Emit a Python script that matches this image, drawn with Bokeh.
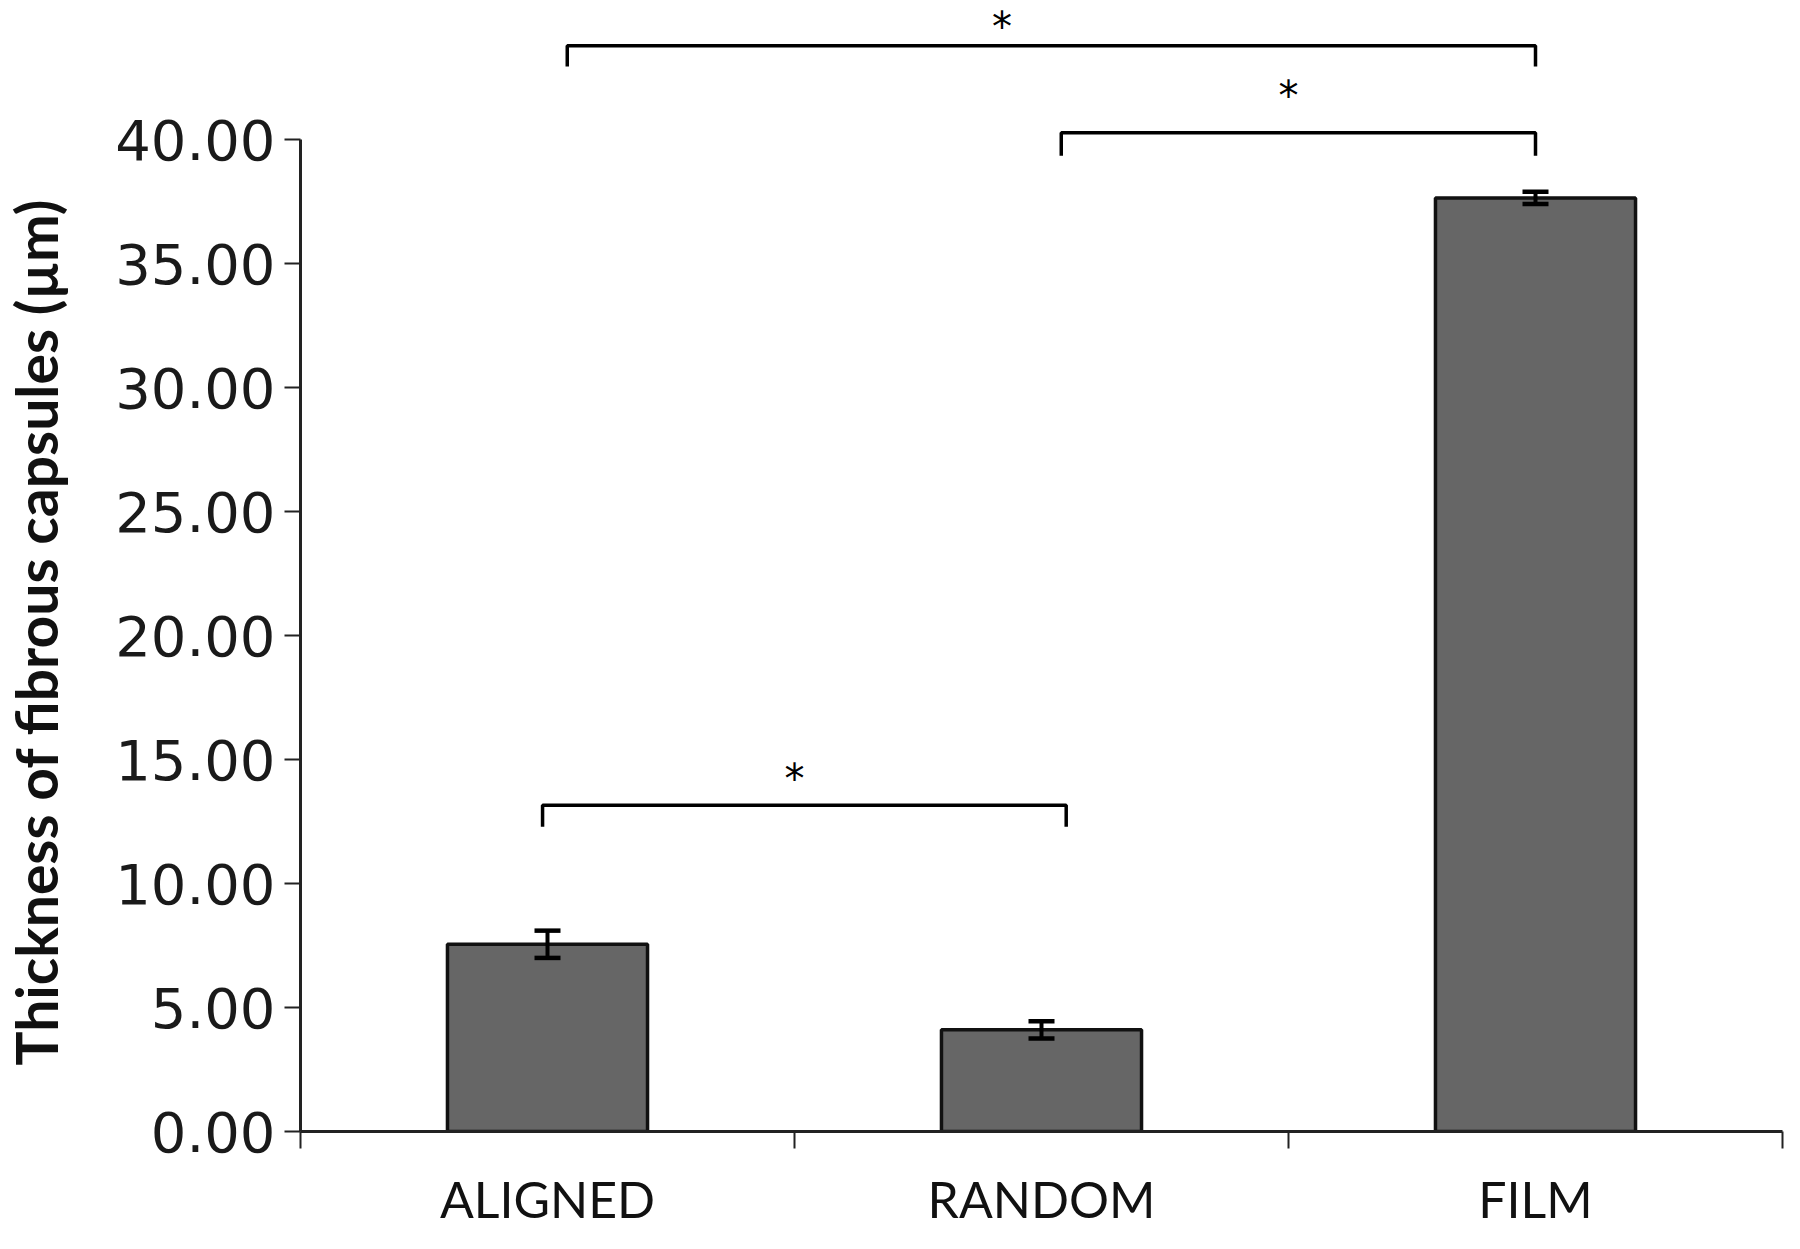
from bokeh.plotting import figure
from bokeh.models import (Range1d, FixedTicker, NumeralTickFormatter, Whisker,
                          TeeHead, ColumnDataSource, Title, LinearAxis)
from bokeh.core.properties import value
from bokeh.embed import file_html
from bokeh.resources import INLINE

# ---- data ----
categories = ["ALIGNED", "RANDOM", "FILM"]
means = [7.55, 4.10, 37.65]
errors = [0.55, 0.35, 0.25]
y_ticks = [0, 5, 10, 15, 20, 25, 30, 35, 40]
y_title = "Thickness of fibrous capsules (µm)"

# significance brackets (x in category units, 0..3; y in data units)
br_left = [0.54, 1.54, 0.49]
br_right = [2.50, 2.50, 1.55]
br_top = [43.79, 40.28, 13.16]
br_foot = [42.95, 39.35, 12.29]
star_x = [1.42, 2.00, 1.00]
star_y = [44.56, 41.76, 14.21]

centers = [i + 0.5 for i in range(len(categories))]

p = figure(width=1784, height=1233, output_backend="svg", toolbar_location=None,
           x_range=Range1d(0, 3), y_range=Range1d(0, 45.61),
           min_border_left=300, min_border_right=2, min_border_top=0,
           min_border_bottom=102)
p.outline_line_color = None
p.xgrid.visible = False
p.ygrid.visible = False
p.background_fill_color = "white"
p.border_fill_color = "white"

src = ColumnDataSource(dict(x=centers, top=means,
                            upper=[m + e for m, e in zip(means, errors)],
                            lower=[m - e for m, e in zip(means, errors)]))
p.vbar(x="x", top="top", bottom=0, width=0.405, source=src,
       fill_color="#666666", line_color="#111111", line_width=3.5)

w = Whisker(base="x", upper="upper", lower="lower", source=src,
            line_color="black", line_width=4, level="overlay",
            upper_head=TeeHead(size=26, line_width=4.5, line_color="black"),
            lower_head=TeeHead(size=26, line_width=4.5, line_color="black"))
p.add_layout(w)

# brackets
xs = [[l, l, r, r] for l, r in zip(br_left, br_right)]
ys = [[f, t, t, f] for t, f in zip(br_top, br_foot)]
p.multi_line(xs=xs, ys=ys, line_color="black", line_width=3.5)
p.text(x=star_x, y=star_y, text=["*"] * len(star_x), text_align="center",
       text_baseline="middle", text_font=value("DejaVu Sans"),
       text_font_size="40px", text_color="black")

# y axis
yax = p.yaxis[0]
yax.ticker = FixedTicker(ticks=y_ticks)
yax.bounds = (0, 40)
yax.formatter = NumeralTickFormatter(format="0.00")
yax.major_label_text_font = "DejaVu Sans"
yax.major_label_text_font_size = "56px"
yax.major_label_text_color = "#1a1a1a"
yax.major_tick_out = 16
yax.major_tick_in = 0
yax.minor_tick_out = 0
yax.minor_tick_in = 0
yax.major_tick_line_width = 2
yax.major_tick_line_color = "#222222"
yax.axis_line_width = 3
yax.axis_line_color = "#222222"
yax.major_label_standoff = 9

# blank spacer between the tick labels and the axis title
spacer = LinearAxis(ticker=FixedTicker(ticks=[20]), major_tick_out=42,
                    major_tick_in=0, minor_tick_out=0, minor_tick_in=0,
                    axis_line_color=None, major_tick_line_color=None,
                    minor_tick_line_color=None, major_label_standoff=0,
                    major_label_overrides={20: ""})
p.add_layout(spacer, "left")

p.add_layout(Title(text=y_title, align="left", offset=66, standoff=0,
                   vertical_align="middle",
                   text_font="Lato", text_font_style="bold",
                   text_font_size="57px", text_color="#111111"), "left")

# x axis
xax = p.xaxis[0]
xax.ticker = FixedTicker(ticks=centers, minor_ticks=[0, 1, 2, 3])
xax.major_label_overrides = {c: n for c, n in zip(centers, categories)}
xax.major_tick_out = 0
xax.major_tick_in = 0
xax.minor_tick_out = 17
xax.minor_tick_in = 0
xax.minor_tick_line_width = 2
xax.minor_tick_line_color = "#222222"
xax.axis_line_width = 3
xax.axis_line_color = "#222222"
xax.major_label_text_font = "Lato"
xax.major_label_text_font_size = "50px"
xax.major_label_text_color = "#111111"
xax.major_label_standoff = 20

open("out.html", "w").write(file_html(p, INLINE))
